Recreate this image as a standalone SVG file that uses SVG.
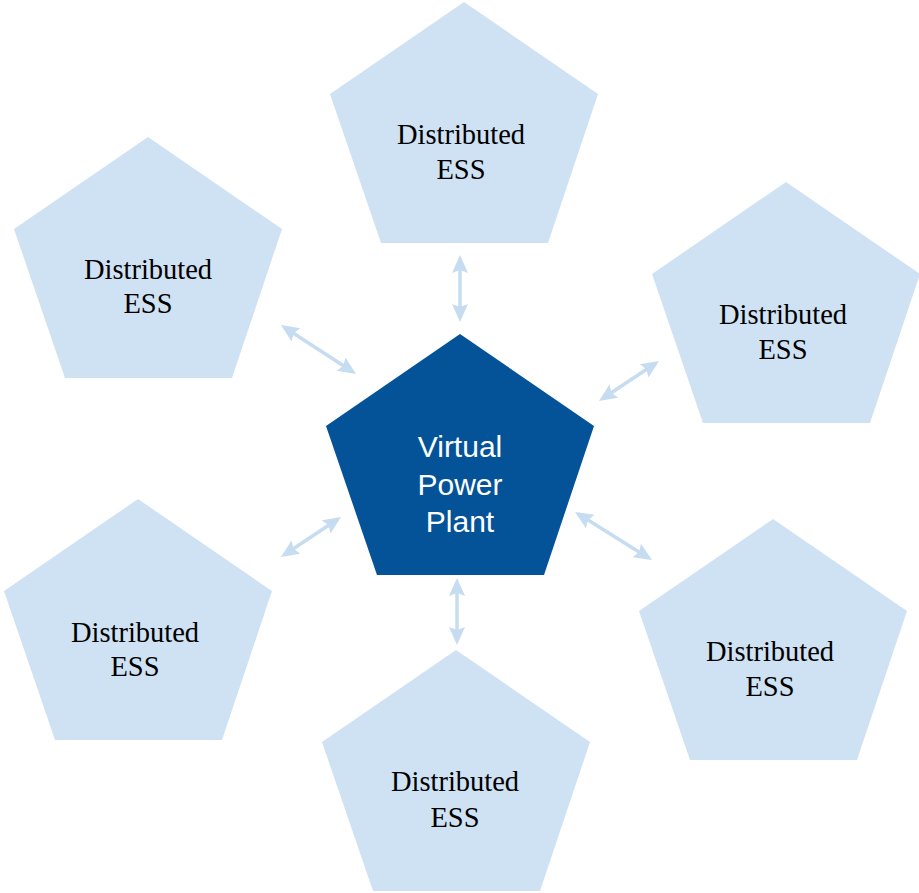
<svg xmlns="http://www.w3.org/2000/svg" width="919" height="893" viewBox="0 0 919 893">
  <style>
    .ess { fill: #cfe2f3; }
    .vpp { fill: #045399; }
    .lbl { font-family: "Liberation Serif", "Times New Roman", serif; font-size: 28.5px; fill: #000; text-anchor: middle; }
    .vlbl { font-family: "Liberation Sans", Arial, sans-serif; font-size: 30px; fill: #fff; text-anchor: middle; }
    .arr { stroke: #c6dcf1; stroke-width: 3.5; fill: none; marker-start: url(#ah); marker-end: url(#ah); }
  </style>
  <defs>
    <polygon id="pent" points="0,0 134,92 84,241 -83,241 -134,92"/>
    <marker id="ah" markerUnits="userSpaceOnUse" markerWidth="20" markerHeight="18" refX="14" refY="8" orient="auto-start-reverse">
      <path d="M0,0 L18,8 L0,16 L3,8 z" fill="#c6dcf1"/>
    </marker>
  </defs>
  <rect width="919" height="893" fill="#fff"/>

  <g id="ess-top">
    <use href="#pent" class="ess" x="464" y="2"/>
    <text class="lbl" x="461" y="144">Distributed</text>
    <text class="lbl" x="461" y="179">ESS</text>
  </g>
  <g id="ess-top-left">
    <use href="#pent" class="ess" x="148" y="137"/>
    <text class="lbl" x="148" y="279">Distributed</text>
    <text class="lbl" x="148" y="313">ESS</text>
  </g>
  <g id="ess-right">
    <use href="#pent" class="ess" x="786" y="182"/>
    <text class="lbl" x="783" y="324">Distributed</text>
    <text class="lbl" x="783" y="359">ESS</text>
  </g>
  <g id="ess-bottom-left">
    <use href="#pent" class="ess" x="138" y="499"/>
    <text class="lbl" x="135" y="642">Distributed</text>
    <text class="lbl" x="135" y="676">ESS</text>
  </g>
  <g id="ess-bottom-right">
    <use href="#pent" class="ess" x="773" y="519"/>
    <text class="lbl" x="770" y="661">Distributed</text>
    <text class="lbl" x="770" y="696">ESS</text>
  </g>
  <g id="ess-bottom">
    <use href="#pent" class="ess" x="456" y="650"/>
    <text class="lbl" x="455" y="791">Distributed</text>
    <text class="lbl" x="455" y="827">ESS</text>
  </g>
  <g id="vpp">
    <use href="#pent" class="vpp" x="460" y="334"/>
    <text class="vlbl" x="460" y="457">Virtual</text>
    <text class="vlbl" x="460" y="495">Power</text>
    <text class="vlbl" x="460" y="532">Plant</text>
  </g>

  <g id="connectors">
    <line class="arr" x1="284.3" y1="327.2" x2="352.7" y2="371.8"/>
    <line class="arr" x1="460" y1="259" x2="460" y2="318"/>
    <line class="arr" x1="655.7" y1="363.2" x2="602.3" y2="398.8"/>
    <line class="arr" x1="337.7" y1="519.2" x2="284.3" y2="554.8"/>
    <line class="arr" x1="578.4" y1="514.1" x2="648.6" y2="557.9"/>
    <line class="arr" x1="457" y1="582" x2="457" y2="641"/>
  </g>
</svg>
